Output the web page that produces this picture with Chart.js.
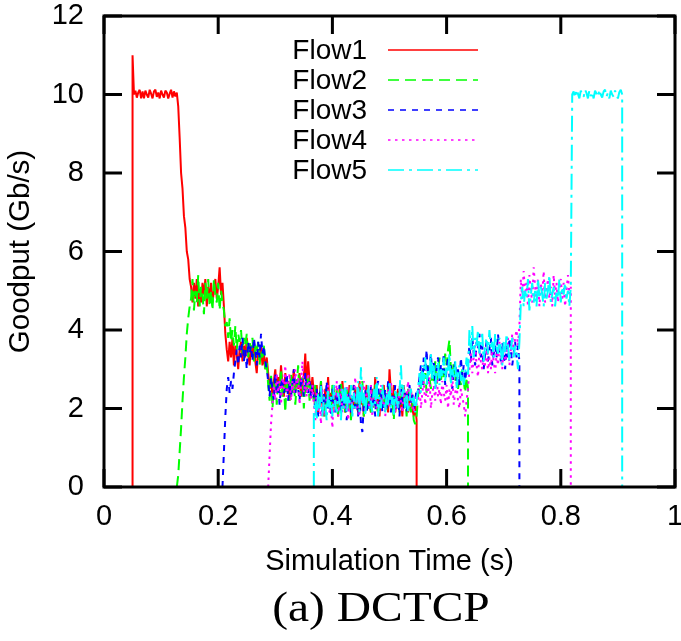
<!DOCTYPE html>
<html><head><meta charset="utf-8">
<script src="https://cdn.jsdelivr.net/npm/chart.js@4"></script>
<style>html,body{margin:0;padding:0;background:#fff}</style>
</head><body>
<canvas id="c" width="681" height="641"></canvas>
<script>
// ---------- data ----------
const STEP = 0.0025; // sampling interval (s)
const flowLabels = ['Flow1', 'Flow2', 'Flow3', 'Flow4', 'Flow5'];
const flowStarts = [0.05, 0.1275, 0.2075, 0.2875, 0.3675];

const flow1 = [11.0,
10.0,10.1,9.92,10.05,10.12,9.9,10.08,9.9,10.1,10.0,9.92,10.12,10.02,9.9,10.08,10.12,9.94,10.05,9.9,10.1,10.0,9.92,10.1,10.05,9.9,10.02,10.12,9.92,10.08,9.95,10.05,
9.7,8.9,8.0,7.6,6.9,6.6,6.0,5.8,5.3,
5.1,4.7,5.2,4.8,5.3,4.6,5.0,4.7,5.2,4.9,5.3,4.6,5.1,4.8,5.2,4.7,5.0,5.3,4.8,5.1,5.6,4.9,5.2,
4.6,3.9,
3.5,3.2,3.7,3.3,3.8,3.1,3.6,3.4,3.0,3.5,3.7,3.2,3.6,3.3,3.8,3.4,3.1,3.6,3.3,3.7,3.2,2.9,3.5,3.3,3.6,3.1,3.4,3.0,3.3,
2.9,2.5,2.8,2.3,2.7,3.0,2.4,2.8,2.5,3.1,2.6,2.3,2.9,2.5,2.7,2.2,2.8,2.6,3.0,2.4,2.7,2.5,2.9,2.3,2.6,2.8,3.4,2.5,3.2,2.7,2.4,2.8,
2.4,2.0,2.6,1.9,2.3,2.7,2.1,1.8,2.5,2.2,
2.8,2.0,2.4,1.9,2.6,2.1,2.3,1.8,2.5,2.0,
2.7,2.2,1.9,2.4,2.1,2.6,1.8,2.3,2.0,2.5,
2.2,1.9,2.7,2.1,2.4,1.8,2.3,2.6,2.0,2.2,
1.9,2.5,2.1,2.8,2.0,2.3,1.8,2.4,2.2,2.6,
2.0,2.3,1.9,3.0,2.4,2.1,2.6,1.9,2.2,2.5,
2.0,2.3,1.8,2.6,2.1,2.4,1.9,2.2,2.5,2.0,
1.8,2.1,1.7];

const flow2 = [0,0.3,0.9,1.5,2.2,2.8,3.3,3.9,4.3,4.6,
4.8,5.3,4.5,5.0,4.7,5.4,4.6,5.1,4.9,4.4,5.2,4.8,5.3,4.6,5.0,4.5,5.3,4.9,4.7,5.2,4.5,5.0,4.7,
4.5,4.1,
4.2,3.8,4.3,3.7,4.0,3.6,4.1,3.5,3.9,3.7,4.0,3.4,3.8,3.6,3.9,3.3,3.7,3.5,3.8,3.2,3.6,3.4,3.7,3.1,3.5,3.3,3.6,3.0,3.2,
2.6,2.2,2.9,2.0,2.5,2.8,2.1,2.7,2.4,3.0,2.3,2.6,1.9,2.8,2.5,2.2,2.9,2.4,2.7,2.1,2.6,3.1,2.3,2.5,2.8,2.0,2.7,2.4,2.9,2.2,2.6,2.4,
2.2,2.6,1.9,2.4,2.0,2.7,2.1,2.3,1.8,2.5,
2.1,2.4,1.9,2.6,2.2,2.0,2.5,1.8,2.3,2.7,
2.0,2.2,1.9,2.5,2.1,2.4,1.7,2.3,2.6,2.0,
2.2,1.9,2.4,2.1,2.7,1.8,2.3,2.0,2.5,2.2,
1.9,2.4,2.0,2.6,2.2,1.8,2.3,2.5,2.0,2.1,
2.4,1.9,2.6,2.2,2.0,2.3,1.7,2.5,2.1,2.4,
1.9,2.2,2.6,2.0,2.3,1.8,2.5,2.1,1.9,2.2,
1.7,1.6,1.8,
2.3,2.7,2.5,3.0,2.6,2.9,2.4,3.1,2.8,2.5,
3.0,2.7,3.2,2.6,2.9,3.3,2.7,3.0,2.8,3.4,
3.1,3.5,3.75,3.0,2.8,3.2,2.7,2.9,2.5,2.8,
2.6,3.0,2.7,2.4,2.8,2.5];

const flow3 = [0,0.9,1.8,2.5,2.8,
2.4,2.7,2.5,2.9,3.2,
3.5,3.1,3.6,3.3,3.8,3.2,3.5,3.0,3.7,3.4,3.6,3.2,3.8,3.5,3.1,3.7,3.3,3.9,3.4,3.6,3.2,3.0,
2.7,2.3,2.8,2.5,2.2,2.9,2.4,2.7,2.1,2.6,2.8,2.4,2.5,2.9,2.2,2.7,2.3,2.6,3.0,2.4,2.7,2.5,2.2,2.8,2.6,2.3,2.9,2.5,2.4,2.7,2.3,2.6,
2.3,2.0,2.5,1.8,2.2,2.6,1.9,2.4,2.1,2.7,
2.0,2.3,1.8,2.5,2.2,1.9,2.4,2.1,2.6,1.9,
2.3,2.0,2.5,1.7,2.2,2.4,1.9,2.1,2.6,2.0,
2.3,1.8,2.4,1.6,1.4,2.1,2.5,1.9,2.2,2.0,
2.6,2.1,2.3,1.8,2.5,2.7,2.0,2.4,1.9,2.2,
2.5,2.0,2.7,2.3,1.9,2.4,2.1,2.6,2.0,2.3,
1.8,2.5,2.2,2.0,2.4,1.9,2.3,2.6,2.1,2.4,
2.0,2.2,2.5,
2.4,2.8,3.1,2.6,3.3,2.9,3.5,2.7,3.0,3.4,
2.8,3.2,2.6,3.0,3.3,2.7,3.1,2.9,3.4,2.6,
3.0,3.3,2.8,3.1,2.5,2.9,3.2,2.7,3.0,2.6,
3.3,2.8,3.1,2.7,3.0,3.2,
3.6,3.2,3.8,3.4,3.1,3.7,3.5,3.9,3.3,3.6,
3.0,3.4,3.7,3.2,3.5,3.8,3.1,3.4,3.6,3.3,
3.9,3.5,3.2,3.7,3.4,3.0,3.6,3.3,3.8,3.5,
3.1,3.4,3.7,3.3,3.6,3.2];

const flow4 = [0,0.8,1.6,2.1,
2.6,2.2,2.9,2.4,2.7,2.1,2.8,2.5,3.1,2.3,2.6,2.9,2.2,2.7,2.4,3.0,2.5,2.8,2.1,2.6,3.2,2.4,2.7,2.3,2.9,2.5,2.2,2.6,
2.1,1.7,2.4,1.9,2.2,1.6,2.5,2.0,1.8,2.3,
2.6,1.9,2.1,1.5,2.4,2.0,2.7,1.8,2.2,2.5,
1.9,2.3,2.0,2.6,1.7,2.2,2.4,1.9,2.1,2.8,
2.0,2.3,1.8,2.5,2.1,2.7,1.9,2.4,2.2,2.0,
2.6,1.8,2.3,2.5,2.0,2.2,1.9,2.6,2.1,2.4,
1.8,2.2,2.5,2.0,2.7,2.1,2.3,1.9,2.4,2.0,
2.6,2.2,1.9,2.5,2.1,2.3,2.7,2.0,2.4,2.2,
1.9,2.3,2.1,
2.2,2.6,2.0,2.4,2.7,2.1,2.5,2.3,2.8,2.0,
2.4,2.6,2.2,2.9,2.3,2.5,2.1,2.7,2.4,2.2,
2.6,2.0,2.5,2.3,2.8,2.1,2.4,2.6,2.2,2.0,
2.5,2.3,2.1,1.8,2.2,2.5,
3.0,3.4,2.9,3.3,3.6,3.1,2.8,3.5,3.2,3.0,
3.4,3.1,3.6,2.9,3.3,3.0,3.5,3.2,2.9,3.4,
3.1,3.7,3.3,3.0,3.6,3.2,3.4,3.8,3.1,3.5,
3.9,3.4,3.8,4.0,3.6,4.1,
5.3,4.8,5.5,4.9,5.2,4.6,5.4,5.0,4.7,5.6,
5.1,4.8,5.3,4.6,5.2,4.9,5.5,4.7,5.0,5.3,
4.8,5.1,4.6,5.4,4.9,5.2,4.7,5.0,5.3,4.8,
5.2,4.6,5.0,5.4,4.9,5.1];

const flow5 = [1.9,2.2,1.7,2.4,2.0,2.6,1.8,2.3,2.1,1.7,
2.5,2.0,2.3,1.8,2.6,2.1,1.9,2.4,2.2,1.7,
2.5,2.0,2.7,1.9,2.3,2.1,2.6,1.8,2.4,2.0,
2.2,2.7,1.9,3.05,2.1,2.4,1.8,2.3,2.6,2.0,
2.2,1.9,2.5,2.1,2.8,1.8,2.3,2.0,2.6,2.2,
1.9,2.4,2.1,2.7,2.0,2.3,1.8,2.5,2.2,2.0,
2.4,3.1,2.3,2.6,2.0,2.4,1.9,2.2,2.5,2.1,
2.3,1.9,2.2,
2.5,2.9,2.4,3.1,2.7,3.3,2.6,3.0,2.8,3.4,
2.7,3.1,2.5,2.9,3.2,2.6,3.0,2.8,3.3,2.7,
3.1,2.9,3.4,2.6,3.0,2.8,3.2,2.5,2.9,3.1,
2.7,3.0,2.6,2.9,3.3,2.8,
4.0,3.5,4.1,3.3,3.8,3.6,4.0,3.4,3.7,3.9,
3.2,3.6,3.8,3.4,4.0,3.5,3.7,3.3,3.9,3.6,
3.4,3.8,3.5,3.1,3.7,3.4,3.9,3.6,3.2,3.5,
3.8,3.3,3.6,3.4,3.0,3.7,
4.7,5.1,4.6,5.0,4.8,5.3,4.5,4.9,5.2,4.7,
5.0,4.6,5.3,4.8,5.1,4.9,4.6,5.2,4.8,5.0,
5.4,4.7,4.9,5.1,4.6,5.0,4.8,5.3,4.7,5.1,
4.9,5.2,4.8,5.0,4.6,5.1,
10.0,10.08,9.92,10.12,10.02,9.9,10.1,10.0,9.94,10.12,
10.04,9.9,10.1,9.96,10.06,9.9,10.1,10.02,9.94,10.12,
10.0,9.92,10.08,10.12,9.95,10.04,9.9,10.1,10.0,9.94,
10.1,10.02,9.9,10.06,10.12,10.0];

const flowValues = [flow1, flow2, flow3, flow4, flow5];

const xTickValues = [0, 0.2, 0.4, 0.6, 0.8, 1];
const xTickLabels = ['0', '0.2', '0.4', '0.6', '0.8', '1'];
const yTickValues = [0, 2, 4, 6, 8, 10, 12];
const yTickLabels = ['0', '2', '4', '6', '8', '10', '12'];
const xTitle = 'Simulation Time (s)';
const yTitle = 'Goodput (Gb/s)';
const caption = '(a) DCTCP';

// ---------- styles ----------
const flowColors = ['#ff0000', '#00ff00', '#0000ff', '#ff00ff', '#00ffff'];
const flowDashes = [[], [11, 6], [6, 6], [2.5, 4.5], [16, 5, 3, 5]];
const SANS = '"Liberation Sans", Arial, Helvetica, sans-serif';
const SERIF = '"Liberation Serif", "Times New Roman", Times, serif';

function toPoints(start, vals) {
  const pts = [{x: start, y: 0}];
  vals.forEach((v, i) => pts.push({x: start + i * STEP, y: v}));
  pts.push({x: start + (vals.length - 1) * STEP, y: 0});
  return pts;
}

const datasets = flowLabels.map((lab, k) => ({
  label: lab,
  data: toPoints(flowStarts[k], flowValues[k]),
  borderColor: flowColors[k],
  backgroundColor: flowColors[k],
  borderWidth: 2,
  borderDash: flowDashes[k],
  borderJoinStyle: 'bevel',
  pointRadius: 0,
  tension: 0,
  fill: false,
  order: 5 - k
}));

const decor = {
  id: 'decor',
  afterDatasetsDraw(chart) {
    const {ctx, chartArea: a, scales: {x, y}} = chart;
    ctx.save();
    ctx.strokeStyle = '#000';
    ctx.lineWidth = 3;
    ctx.setLineDash([]);
    ctx.beginPath();
    xTickValues.forEach(v => {
      const px = x.getPixelForValue(v);
      ctx.moveTo(px, a.bottom); ctx.lineTo(px, a.bottom - 18);
      ctx.moveTo(px, a.top); ctx.lineTo(px, a.top + 18);
    });
    yTickValues.forEach(v => {
      const py = y.getPixelForValue(v);
      ctx.moveTo(a.left, py); ctx.lineTo(a.left + 18, py);
      ctx.moveTo(a.right, py); ctx.lineTo(a.right - 18, py);
    });
    ctx.stroke();
    ctx.lineJoin = 'miter';
    ctx.strokeRect(a.left, a.top, a.right - a.left, a.bottom - a.top);

    // legend (gnuplot style: text, then sample line)
    ctx.font = '28px ' + SANS;
    ctx.textAlign = 'right';
    ctx.textBaseline = 'middle';
    chart.data.datasets.forEach((ds, k) => {
      const ly = 50 + 30 * k;
      ctx.fillStyle = '#000';
      ctx.fillText(ds.label, 367, ly + 1);
      ctx.strokeStyle = ds.borderColor;
      ctx.lineWidth = 1.6;
      ctx.setLineDash(ds.borderDash);
      ctx.beginPath();
      ctx.moveTo(388, ly); ctx.lineTo(478, ly);
      ctx.stroke();
    });
    ctx.restore();
  },
  afterDraw(chart) {
    const ctx = chart.ctx;
    ctx.save();
    ctx.fillStyle = '#000';
    ctx.font = '42px ' + SERIF;
    ctx.textAlign = 'center';
    ctx.textBaseline = 'middle';
    ctx.translate(381, 610);
    ctx.scale(1.13, 1);
    ctx.fillText(caption, 0, 0);
    ctx.restore();
  }
};

new Chart(document.getElementById('c'), {
  type: 'line',
  data: {datasets},
  plugins: [decor],
  options: {
    responsive: false,
    animation: false,
    devicePixelRatio: 1,
    layout: {padding: {top: 16, right: 6, left: 0, bottom: 54}},
    plugins: {legend: {display: false}, tooltip: {enabled: false}, title: {display: false}},
    scales: {
      x: {
        type: 'linear', min: 0, max: 1,
        afterBuildTicks: s => { s.ticks = xTickValues.map(v => ({value: v})); },
        afterFit: s => { s.height = 100; s.paddingLeft = 0; s.paddingRight = 0; },
        ticks: {callback: (v, i) => xTickLabels[i], padding: 13, color: '#000',
                font: {family: SANS, size: 29}, maxRotation: 0, autoSkip: false},
        grid: {display: false, drawTicks: false},
        border: {display: false},
        title: {display: true, text: xTitle, color: '#000', font: {family: SANS, size: 29},
                padding: {top: 0, bottom: 8}}
      },
      y: {
        type: 'linear', min: 0, max: 12,
        afterBuildTicks: s => { s.ticks = yTickValues.map(v => ({value: v})); },
        afterFit: s => { s.width = 104; s.paddingTop = 0; s.paddingBottom = 0; },
        ticks: {callback: (v, i) => yTickLabels[i], padding: 20, color: '#000',
                font: {family: SANS, size: 29}, autoSkip: false},
        grid: {display: false, drawTicks: false},
        border: {display: false},
        title: {display: true, text: yTitle, color: '#000', font: {family: SANS, size: 29.5},
                padding: {top: 3, bottom: 0}}
      }
    }
  }
});
</script>
</body></html>
